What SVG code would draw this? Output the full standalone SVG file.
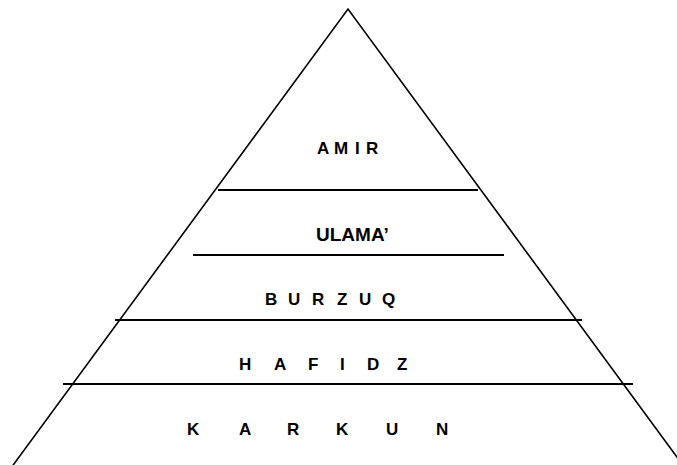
<svg xmlns="http://www.w3.org/2000/svg" width="677" height="465" viewBox="0 0 677 465">
<style>
.lbl{font-family:"Liberation Sans",Arial,sans-serif;font-weight:bold;font-size:17px;fill:#000}
.edge{stroke:#000;stroke-width:1.6;fill:none}
.div{stroke:#000;stroke-width:2;fill:none}
</style>
<rect width="677" height="465" fill="#fff"/>
<g id="pyramid">
<polyline class="edge" points="11,468 348,9 685,468"/>
</g>
<g id="connectors">
<line class="div" x1="218" y1="190" x2="478" y2="190"/>
<line class="div" x1="193" y1="255" x2="504" y2="255"/>
<line class="div" x1="115" y1="320" x2="582" y2="320"/>
<line class="div" x1="63" y1="384" x2="633" y2="384"/>
</g>
<g id="amir"><text class="lbl" x="317 334 355 366" y="154">AMIR</text></g>
<g id="ulama"><text class="lbl" x="316" y="240.5" style="font-size:19px">ULAMA’</text></g>
<g id="burzuq"><text class="lbl" x="265 288 312 337 359 382" y="305">BURZUQ</text></g>
<g id="hafidz"><text class="lbl" x="239 274 308 340 367 397" y="369.5">HAFIDZ</text></g>
<g id="karkun"><text class="lbl" x="187 239 287 336 386 436" y="435">KARKUN</text></g>
</svg>
